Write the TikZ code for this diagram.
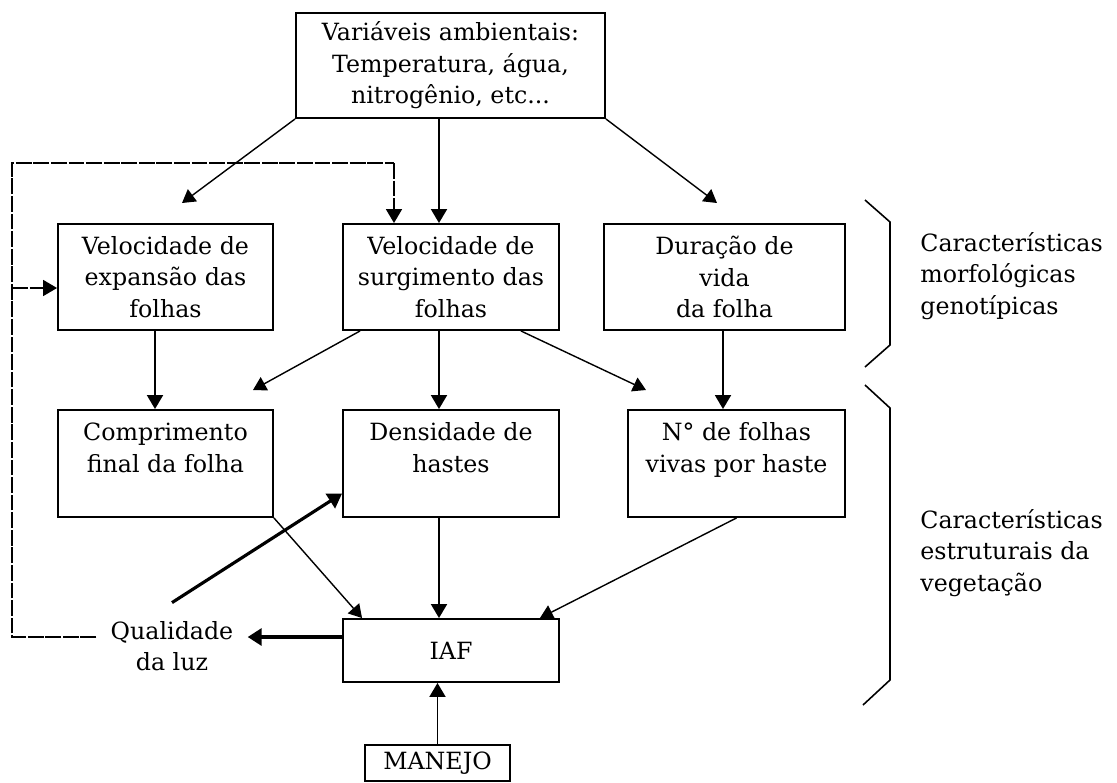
\documentclass[tikz,border=0pt]{standalone}
\usepackage{fontspec}
\setmainfont{DejaVu Serif}
\usetikzlibrary{arrows.meta, positioning}
\tikzset{
  bx/.style={draw, line width=1.1pt, align=center, inner sep=0pt, font=\fontsize{13.5}{18}\selectfont},
  lbl/.style={align=center, inner sep=8pt, font=\fontsize{13.5}{18}\selectfont},
  ar/.style={line width=1.1pt, -{Triangle[width=0.32cm,length=0.28cm]}},
  arthin/.style={line width=0.8pt, -{Triangle[width=0.3cm,length=0.26cm]}},
  arthick/.style={line width=1.8pt, -{Triangle[width=0.34cm,length=0.28cm]}},
  fbline/.style={line width=1pt, dash pattern=on 9pt off 1pt},
  brc/.style={line width=0.9pt}}

\begin{document}
\begin{tikzpicture}[x=0.02cm, y=-0.02cm]
\useasboundingbox (0,0) rectangle (1117,782);
\coordinate (colA) at (155,0);
\coordinate (colB) at (439,0);
\coordinate (colC) at (723,0);
\coordinate (fbT) at (12,163);
\coordinate (fbB) at (394,163);
\coordinate (fbA) at (12,288);
\coordinate (fbQ) at (12,637);
\coordinate (tA) at (182,203);
\coordinate (tC) at (717,203);
\coordinate (bc) at (253,390);
\coordinate (bn) at (646,390);

\node[bx, minimum width=6.18cm, minimum height=2.1cm] (amb) at (450.5,65.5) {Variáveis ambientais:\\Temperatura, água,\\nitrogênio, etc...};
\node[bx, minimum width=4.3cm, minimum height=2.12cm] (vexp) at (165.5,277) {Velocidade de\\expansão das\\folhas};
\node[bx, minimum width=4.32cm, minimum height=2.12cm] (vsurg) at (451,277) {Velocidade de\\surgimento das\\folhas};
\node[bx, minimum width=4.82cm, minimum height=2.12cm] (dur) at (724.5,277) {Duração de\\vida\\da folha};
\node[bx, minimum width=4.3cm, minimum height=2.14cm] (comp) at (165.5,463.5) {Comprimento\\final da folha\\\mbox{}};
\node[bx, minimum width=4.32cm, minimum height=2.14cm] (dens) at (451,463.5) {Densidade de\\hastes\\\mbox{}};
\node[bx, minimum width=4.34cm, minimum height=2.14cm] (nfol) at (736.5,463.5) {N° de folhas\\vivas por haste\\\mbox{}};
\node[bx, minimum width=4.32cm, minimum height=1.26cm] (iaf) at (451,650.5) {IAF};
\node[bx, minimum width=2.9cm, minimum height=0.72cm] (man) at (437.5,763) {MANEJO};
\node[lbl] (qual) at (172,646) {Qualidade\\da luz};
\node[lbl, anchor=west, align=left, inner sep=0pt] (morf) at (920,276) {Características\\morfológicas\\genotípicas};
\node[lbl, anchor=west, align=left, inner sep=0pt] (estr) at (920,553) {Características\\estruturais da\\vegetação};

% from the environment
\draw[ar] (amb.south -| colB) -- (vsurg.north -| colB);
\draw[arthin] (amb.south west) -- (tA);
\draw[arthin] (amb.south east) -- (tC);
% first row to second row
\draw[ar] (vexp.south -| colA) -- (comp.north -| colA);
\draw[ar] (vsurg.south -| colB) -- (dens.north -| colB);
\draw[ar] (dur.south -| colC) -- (nfol.north -| colC);
\draw[arthin] ([xshift=0.36cm]vsurg.south west) -- (bc);
\draw[arthin] ([xshift=-0.78cm]vsurg.south east) -- (bn);
% into IAF
\draw[arthin] (comp.south east) -- ([xshift=0.4cm]iaf.north west);
\draw[ar] (dens.south -| colB) -- (iaf.north -| colB);
\draw[arthin] (nfol.south) -- ([xshift=-0.4cm]iaf.north east);
\draw[ar] (man.north) -- (man.north |- iaf.south);
% light quality
\draw[arthick] (iaf.west |- fbQ) -- (qual.east |- fbQ);
\draw[arthick] ([yshift=0.08cm]qual.north) -- ([yshift=-0.6cm]dens.west);
\draw[fbline] (qual.west |- fbQ) -- (fbQ) -- (fbT) -- (fbB);
\draw[fbline, -{Triangle[width=0.32cm,length=0.28cm]}] (fbB) -- (vsurg.north -| fbB);
\draw[fbline, -{Triangle[width=0.32cm,length=0.28cm]}] (fbA) -- (vexp.west |- fbA);

% braces
\draw[brc] (865,200) -- (890,222) -- (890,345) -- (865,367);
\draw[brc] (865,385) -- (890,408) -- (890,680) -- (863,705);
\end{tikzpicture}
\end{document}
